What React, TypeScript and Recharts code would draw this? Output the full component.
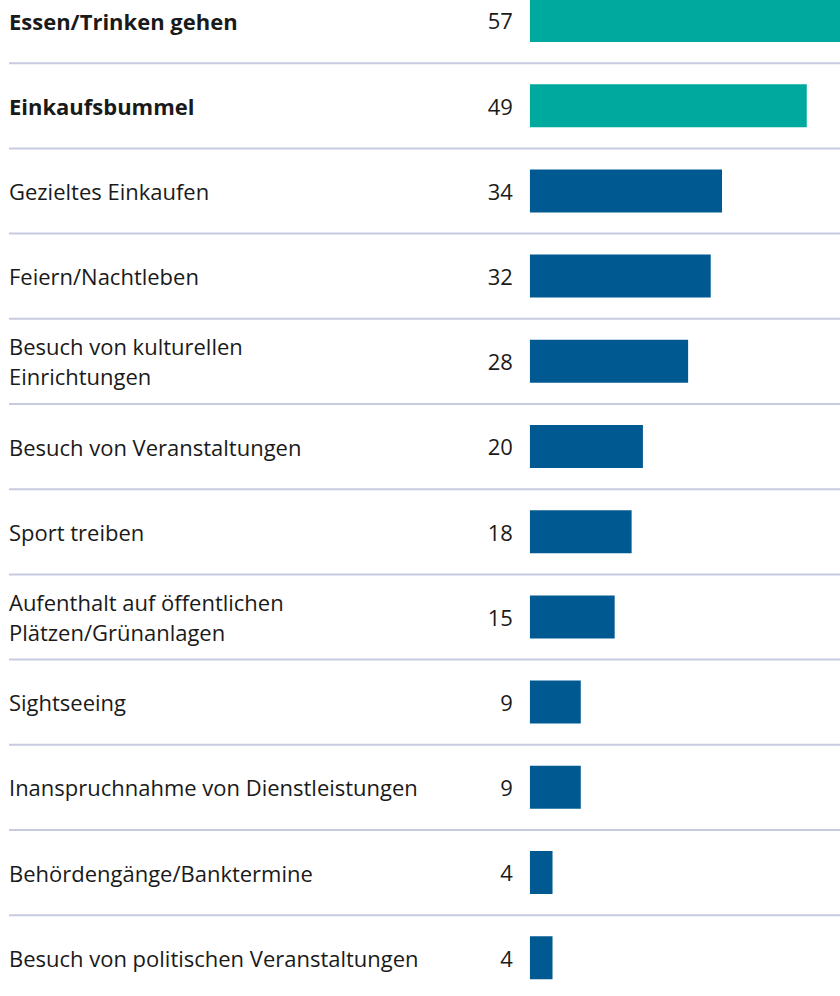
import { BarChart, Bar, XAxis, YAxis, Cell, LabelList, ReferenceLine } from 'recharts'

const categories = [
  'Essen/Trinken gehen',
  'Einkaufsbummel',
  'Gezieltes Einkaufen',
  'Feiern/Nachtleben',
  'Besuch von kulturellen\nEinrichtungen',
  'Besuch von Veranstaltungen',
  'Sport treiben',
  'Aufenthalt auf öffentlichen\nPlätzen/Grünanlagen',
  'Sightseeing',
  'Inanspruchnahme von Dienstleistungen',
  'Behördengänge/Banktermine',
  'Besuch von politischen Veranstaltungen',
]

const values = [57, 49, 34, 32, 28, 20, 18, 15, 9, 9, 4, 4]

const highlighted = ['Essen/Trinken gehen', 'Einkaufsbummel']

const TEAL = '#00a99d'
const BLUE = '#005a91'
const RULE = '#c8cbdf'
const TEXT = '#1a1a1a'
const FONT = '"Open Sans", sans-serif'
const FONT_SIZE = 22

const data = categories.map((name, i) => ({ name, value: values[i] }))

function CategoryTick({ x, y, payload }: { x: number; y: number; payload: { value: string } }) {
  const lines = String(payload.value).split('\n')
  const bold = highlighted.includes(payload.value)
  const lineHeight = 30
  const startY = y - ((lines.length - 1) * lineHeight) / 2
  return (
    <text
      x={x}
      y={startY}
      textAnchor="start"
      dominantBaseline="central"
      fontFamily={FONT}
      fontSize={FONT_SIZE}
      fontWeight={bold ? 700 : 400}
      fill={TEXT}
    >
      {lines.map((line, i) => (
        <tspan key={i} x={x} dy={i === 0 ? 0 : lineHeight}>
          {line}
        </tspan>
      ))}
    </text>
  )
}

function ValueLabel(props: any) {
  const { x, y, height, value } = props
  return (
    <text
      x={x - 17}
      y={y + height / 2}
      textAnchor="end"
      dominantBaseline="central"
      fontFamily={FONT}
      fontSize={FONT_SIZE}
      fill={TEXT}
    >
      {value}
    </text>
  )
}

export default function App() {
  return (
    <div
      style={{
        position: 'absolute',
        left: 0,
        top: 0,
        width: 840,
        height: 996,
        overflow: 'hidden',
        background: '#fff',
      }}
    >
      <div style={{ position: 'relative', top: -21.6 }}>
        <BarChart
          width={900}
          height={1022.4}
          data={data}
          layout="vertical"
          margin={{ top: 0, right: 0, bottom: 0, left: 8 }}
        >
          <XAxis
            type="number"
            hide
            domain={[-92.2, 65.5]}
            allowDataOverflow
          />
          <YAxis
            type="category"
            dataKey="name"
            width={1}
            axisLine={false}
            tickLine={false}
            tickSize={0}
            tickMargin={0}
            interval={0}
            tick={(props: any) => <CategoryTick {...props} />}
          />
          {categories.slice(0, -1).map((cat) => (
            <ReferenceLine
              key={cat}
              y={cat}
              position="end"
              stroke={RULE}
              strokeWidth={2}
              ifOverflow="visible"
            />
          ))}
          <Bar dataKey="value" barSize={43} isAnimationActive={false}>
            {data.map((d) => (
              <Cell key={d.name} fill={highlighted.includes(d.name) ? TEAL : BLUE} />
            ))}
            <LabelList dataKey="value" content={ValueLabel} />
          </Bar>
        </BarChart>
      </div>
    </div>
  )
}
